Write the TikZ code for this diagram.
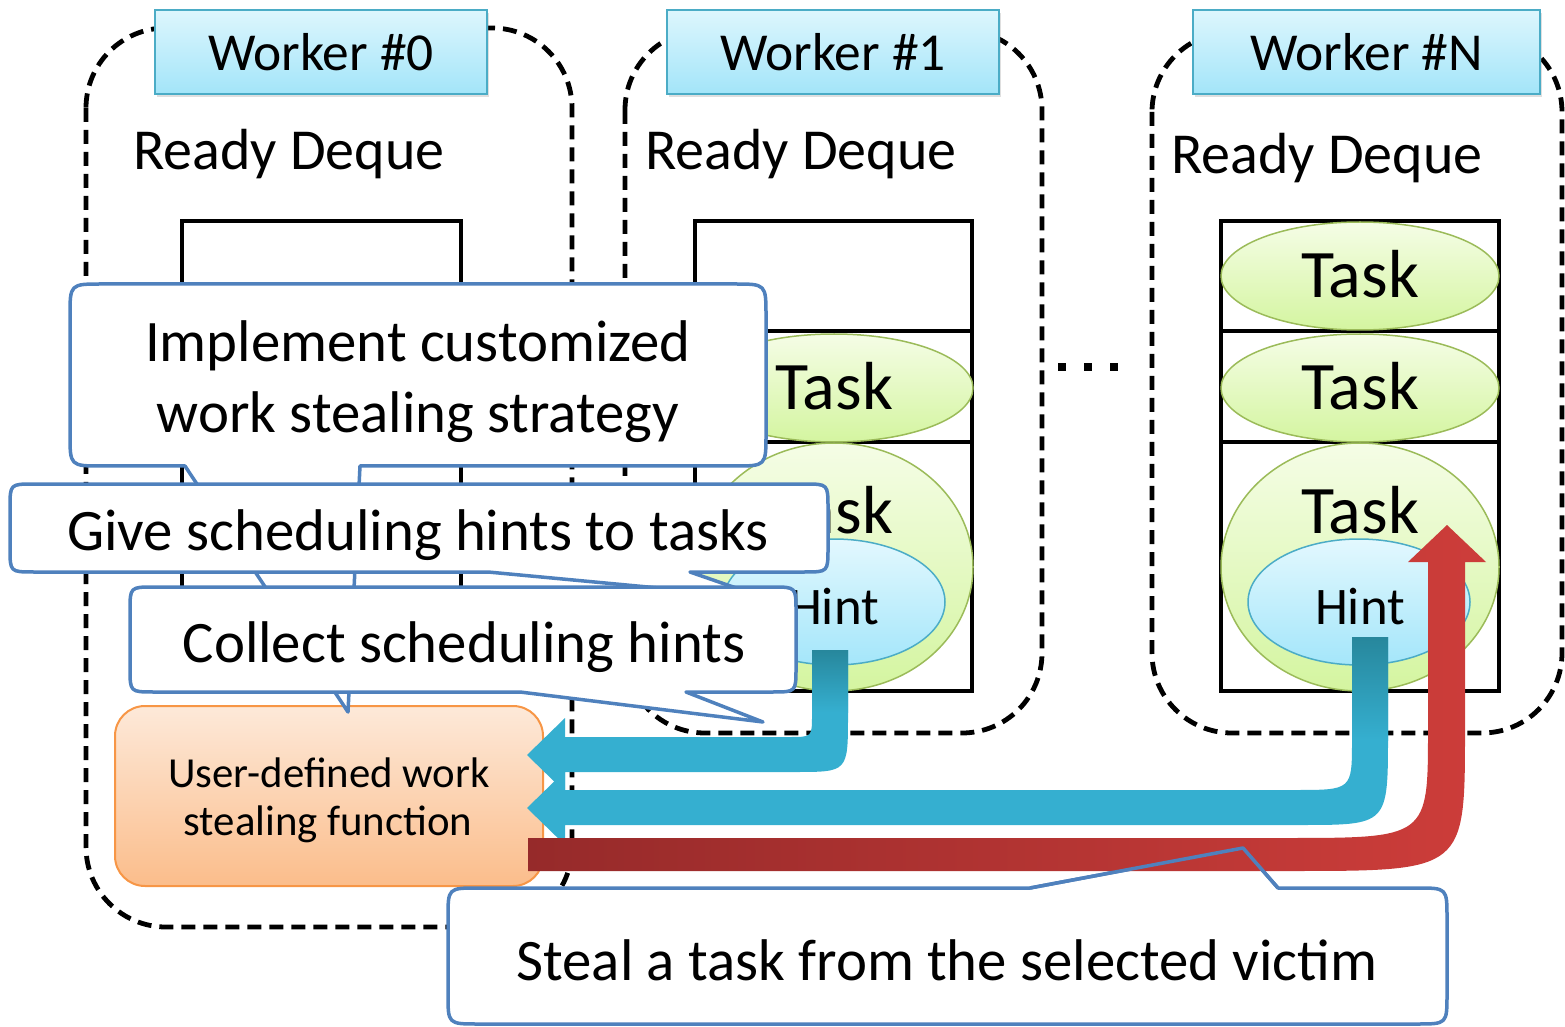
\documentclass[tikz,border=0pt]{standalone}
\usepackage{fontspec}
\setmainfont{Carlito}
\usetikzlibrary{shapes.geometric,shadows}
\definecolor{lblTop}{HTML}{DDF6FD}
\definecolor{lblBot}{HTML}{A3E5F9}
\definecolor{lblLine}{HTML}{4BACC6}
\definecolor{calLine}{HTML}{4F81BD}
\definecolor{taskTop}{HTML}{F5FDE6}
\definecolor{taskBot}{HTML}{D4F5A0}
\definecolor{taskLine}{HTML}{9BBB59}
\definecolor{hintTop}{HTML}{E3F8FE}
\definecolor{hintBot}{HTML}{A4E6FA}
\definecolor{hintLine}{HTML}{4BACC6}
\definecolor{fnTop}{HTML}{FDE9D9}
\definecolor{fnBot}{HTML}{FBBD8B}
\definecolor{fnLine}{HTML}{F79646}
\definecolor{arrBlue}{HTML}{35AFD0}
\definecolor{arrBlueDark}{HTML}{27879C}
\definecolor{arrRedDark}{HTML}{962A2A}
\definecolor{arrRed}{HTML}{CD3D3A}
\begin{document}
\begin{tikzpicture}[x=0.5pt,y=-0.5pt,
  region/.style={draw=black,line width=2.4pt,dash pattern=on 7pt off 4pt,rounded corners=40pt},
  wlabel/.style={draw=lblLine,line width=1pt,top color=lblTop,bottom color=lblBot,minimum height=42pt,inner sep=0pt,
     font=\fontsize{26.7}{30}\selectfont,drop shadow={shadow xshift=1pt,shadow yshift=-1.5pt,opacity=0.25}},
  rdq/.style={font=\fontsize{29}{34}\selectfont,inner sep=0pt,anchor=base},
  deque/.style={draw=black,line width=2pt},
  task/.style={ellipse,draw=taskLine,line width=0.75pt,top color=taskTop,bottom color=taskBot,inner sep=0pt,minimum width=139pt},
  hint/.style={ellipse,draw=hintLine,line width=0.75pt,top color=hintTop,bottom color=hintBot,inner sep=0pt,minimum width=111pt,minimum height=63pt},
  tasktxt/.style={font=\fontsize{34}{38}\selectfont,inner sep=0pt,anchor=base},
  hinttxt/.style={font=\fontsize{26.4}{30}\selectfont,inner sep=0pt,anchor=base},
  callout/.style={draw=calLine,line width=1.75pt,fill=white,line join=round},
  caltxt/.style={font=\fontsize{29.4}{35}\selectfont,inner sep=0pt,anchor=base},
  fnbox/.style={draw=fnLine,line width=1pt,top color=fnTop,bottom color=fnBot,rounded corners=15pt,
     minimum width=214pt,minimum height=90pt,inner sep=0pt},
  fntxt/.style={font=\fontsize{21.4}{25}\selectfont,inner sep=0pt,anchor=base},
  bluearrow/.style={fill=arrBlue},
  redarrow/.style={left color=arrRedDark,right color=arrRed}
]
\useasboundingbox (0,0) rectangle (1565,1027);
% worker regions
\draw[region] (86,28) rectangle (572,927);
\draw[region] (625,30) rectangle (1042,733);
\draw[region] (1152,32) rectangle (1562,733);
% worker labels
\node[wlabel,minimum width=166pt] (w0) at (321,52) {Worker \#0};
\node[wlabel,minimum width=166pt] (w1) at (833,52) {Worker \#1};
\node[wlabel,minimum width=173.5pt] (wn) at (1366.5,52) {Worker \#N};
% ready deque titles
\node[rdq] (rd0) at (289,170) {Ready Deque};
\node[rdq] (rd1) at (801,170) {Ready Deque};
\node[rdq] (rdn) at (1327,174) {Ready Deque};
% deques
\draw[deque] (182,221) rectangle (461,691);
\draw[deque] (182,331) -- (461,331);
\draw[deque] (182,442) -- (461,442);
\draw[deque] (695,221) rectangle (972,691);
\draw[deque] (695,331) -- (972,331);
\draw[deque] (695,442) -- (972,442);
\draw[deque] (1221,221) rectangle (1499,691);
\draw[deque] (1221,331) -- (1499,331);
\draw[deque] (1221,442) -- (1499,442);
% worker 1 tasks
\node[task,minimum height=54pt] (t12) at (834,388) {};
\node[task,minimum height=124pt] (t13) at (834,567) {};
\node[hint] (h1) at (834,602) {};
\node[tasktxt] (t12l) at (834,410) {Task};
\node[tasktxt] (t13l) at (834,533) {Task};
\node[hinttxt] (h1l) at (834,624) {Hint};
% worker N tasks
\node[task,minimum height=54pt] (tn1) at (1360,276) {};
\node[task,minimum height=54pt] (tn2) at (1360,388) {};
\node[task,minimum height=124pt] (tn3) at (1360,567) {};
\node[hint] (hn) at (1359,602) {};
\node[tasktxt] (tn1l) at (1360,298) {Task};
\node[tasktxt] (tn2l) at (1360,410) {Task};
\node[tasktxt] (tn3l) at (1360,533) {Task};
\node[hinttxt] (hnl) at (1360,624) {Hint};
% dots
\fill (1058,363) rectangle (1066,371);
\fill (1084,363) rectangle (1092,371);
\fill (1110,363) rectangle (1118,371);
% user-defined function box
\node[fnbox] (fn) at (329,796) {};
\node[fntxt] (fn1) at (329,787) {User-defined work};
\node[fntxt] (fn2) at (328,835) {stealing function};
% callout: implement
\filldraw[callout] (102,284) -- (734,284) .. controls (766,284) .. (766,316) -- (766,434)
  .. controls (766,466) .. (734,466) -- (360,466) -- (348,712) -- (185,466) -- (102,466)
  .. controls (70,466) .. (70,434) -- (70,316) .. controls (70,284) .. (102,284) -- cycle;
\node[caltxt] (c1a) at (418,362) {Implement customized};
\node[caltxt] (c1b) at (418,432) {work stealing strategy};
% callout: give
\filldraw[callout] (34,484) -- (804,484) .. controls (828,484) .. (828,508) -- (828,548)
  .. controls (828,572) .. (804,572) -- (690,572) -- (765,598) -- (488,572) -- (34,572)
  .. controls (10,572) .. (10,548) -- (10,508) .. controls (10,484) .. (34,484) -- cycle;
\node[caltxt] (c2) at (418,550) {Give scheduling hints to tasks};
% callout: collect
\filldraw[callout] (154,587) -- (772,587) .. controls (796,587) .. (796,611) -- (796,668)
  .. controls (796,692) .. (772,692) -- (686,692) -- (763,722) -- (520,692) -- (154,692)
  .. controls (130,692) .. (130,668) -- (130,611) .. controls (130,587) .. (154,587) -- cycle;
\node[caltxt] (c3) at (464,662) {Collect scheduling hints};
% callout: steal (body)
\filldraw[callout] (478,888) -- (1030,888) -- (1243,848) -- (1278,888) -- (1417,888)
  .. controls (1447,888) .. (1447,918) -- (1447,994) .. controls (1447,1024) .. (1417,1024)
  -- (478,1024) .. controls (448,1024) .. (448,994) -- (448,918) .. controls (448,888) .. (478,888) -- cycle;
\node[caltxt] (c4) at (947,980) {Steal a task from the selected victim};
% blue arrow from worker 1 hint
\fill[bluearrow] (812,650) -- (848,650) -- (848,715) .. controls (848,772) .. (795,772)
  -- (565,772) -- (565,792) -- (527,755) -- (565,718) -- (565,737) -- (790,737)
  .. controls (812,737) .. (812,715) -- cycle;
\shade[top color=arrBlueDark,bottom color=arrBlue] (812,650) rectangle (848,712);
% blue arrow from worker N hint
\fill[bluearrow] (1352,637) -- (1388,637) -- (1388,735) .. controls (1388,825) .. (1300,825)
  -- (565,825) -- (565,845) -- (527,808) -- (565,771) -- (565,790) -- (1295,790)
  .. controls (1352,790) .. (1352,740) -- cycle;
\shade[top color=arrBlueDark,bottom color=arrBlue] (1352,637) rectangle (1388,740);
% red steal arrow
\shade[redarrow] (528,838) -- (1285,838) .. controls (1428,838) .. (1428,730) -- (1428,562)
  -- (1408,562) -- (1447,525) -- (1486,562) -- (1465,562) -- (1465,730)
  .. controls (1465,871) .. (1290,871) -- (528,871) -- cycle;
% steal callout tail outline on top
\draw[callout,fill=none] (1030,888) -- (1243,848) -- (1278,888);
\end{tikzpicture}
\end{document}
